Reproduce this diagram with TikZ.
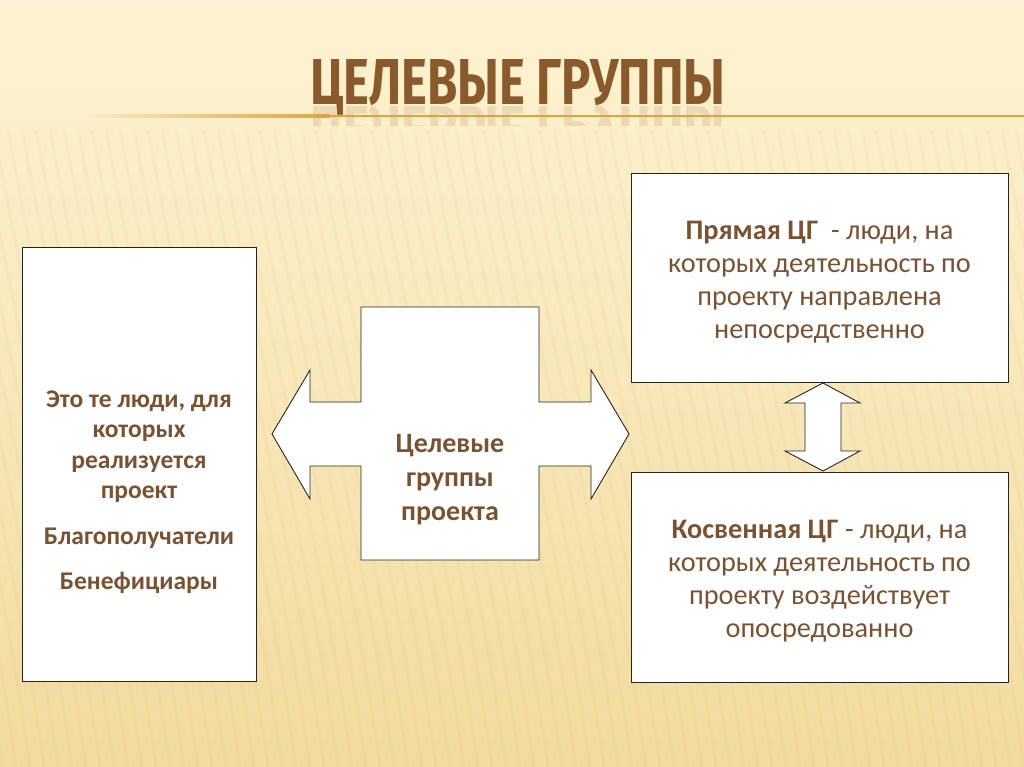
\documentclass[tikz,border=0pt]{standalone}
\usepackage{fontspec}
\setmainfont{Carlito}
\newfontfamily\titlefont{Fira Sans}
\usetikzlibrary{calc}
\definecolor{bgtop}{HTML}{FDF3D2}
\definecolor{bgbot}{HTML}{F1DB9E}
\definecolor{txt}{HTML}{7A5232}
\definecolor{ttl}{HTML}{8A5A2C}
\definecolor{gold}{HTML}{DFA23C}
\definecolor{edge}{HTML}{2A2418}
\tikzset{
  panel/.style={draw=edge, line width=0.9pt, fill=white, inner sep=0pt},
  bodytext/.style={text=txt, align=center, font=\fontsize{28.3}{33}\selectfont},
  lefttext/.style={text=txt, align=center, font=\fontsize{25.5}{30.5}\selectfont\bfseries},
  centertext/.style={text=txt, align=center, font=\fontsize{28}{34}\selectfont\bfseries},
  shapeline/.style={draw=edge, line width=0.9pt, fill=white, line join=miter},
  stripe/.style={draw=brown!60!orange, opacity=0.05, line width=3pt}
}
\begin{document}
\begin{tikzpicture}[x=1pt,y=-1pt]
\useasboundingbox (0,0) rectangle (1024,767);
% background
\shade[top color=bgtop, bottom color=bgbot, middle color=bgtop!55!bgbot] (0,0) rectangle (1024,767);
\begin{scope}
\clip (0,0) rectangle (1024,767);
\foreach \i in {-300,-286,...,1100} {
  \draw[stripe] (\i,130) .. controls (\i+40,350) and (\i+90,550) .. (\i+120,767);
}
\end{scope}
% title
\node[anchor=base west, inner sep=0pt, text=ttl] (title) at (310,105)
  {\resizebox{415pt}{45pt}{\titlefont\bfseries ЦЕЛЕВЫЕ ГРУППЫ}};
\begin{scope}
\clip (300,106) rectangle (740,126);
\node[anchor=base west, inner sep=0pt, text=ttl, opacity=0.15] (titlerefl) at (310,107)
  {\scalebox{1}[-1]{\resizebox{415pt}{45pt}{\titlefont\bfseries ЦЕЛЕВЫЕ ГРУППЫ}}};
\end{scope}
\shade[left color=bgtop, right color=gold] (65,115) rectangle (330,117.5);
\fill[gold] (330,115) rectangle (1024,117.5);
% left box
\node[panel, minimum width=234pt, minimum height=434pt] (left) at (139,464) {};
\node[lefttext] (lefttxt) at (139,492)
  {Это те люди, для\\которых\\реализуется\\проект\\[15pt]Благополучатели\\[15pt]Бенефициары};
% right boxes
\node[panel, minimum width=377pt, minimum height=209pt] (top) at (819.5,277.5) {};
\node[bodytext] (toptxt) at (819.5,282)
  {\textbf{Прямая ЦГ}\ \ - люди, на\\которых деятельность по\\проекту направлена\\непосредственно};
\node[panel, minimum width=377pt, minimum height=210pt] (bot) at (819.5,577) {};
\node[bodytext] (bottxt) at (819.5,581)
  {\textbf{Косвенная ЦГ} - люди, на\\которых деятельность по\\проекту воздействует\\опосредованно};
% centre cross arrow
\draw[shapeline] (361,307) -- (539,307) -- (539,402) -- (591,402) -- (591,370) -- (629,434)
  -- (591,499) -- (591,466) -- (539,466) -- (539,560) -- (361,560) -- (361,466)
  -- (310,466) -- (310,499) -- (272,434) -- (310,370) -- (310,402) -- (361,402) -- cycle;
\node[centertext] (centre) at (450,480) {Целевые\\группы\\проекта};
% vertical double arrow between right boxes
\draw[shapeline] (823,383) -- (860,403) -- (841,403) -- (841,451) -- (860,451) -- (823,471)
  -- (785,451) -- (805,451) -- (805,403) -- (785,403) -- cycle;
\end{tikzpicture}
\end{document}
